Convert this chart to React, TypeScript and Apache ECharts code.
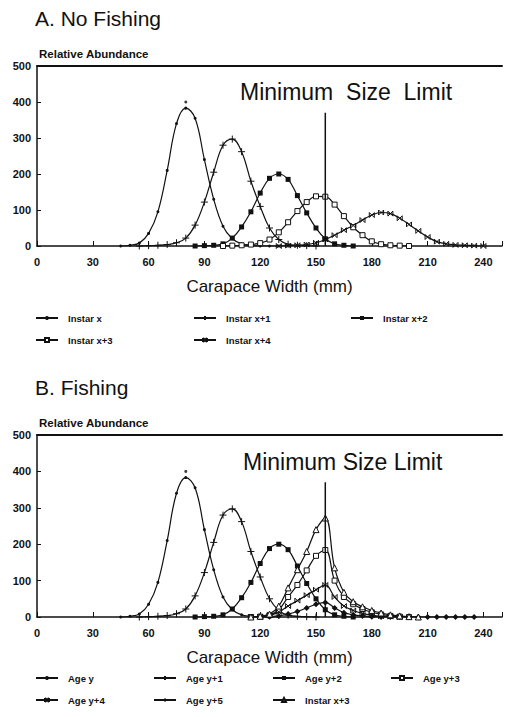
import React, { useEffect, useRef } from "react";
import * as echarts from "echarts";

const FONT = '"Liberation Sans", Arial, Helvetica, sans-serif';
const INK = "#111";

// ---- Panel A: no fishing (carapace width mm, relative abundance) ----
const instarX: [number, number][] = [
  [45, 0], [50, 2], [55, 8], [60, 35], [65, 95], [70, 210], [75, 340], [80, 383],
  [85, 355], [90, 240], [95, 130], [100, 55], [105, 20], [110, 6], [115, 2], [120, 0], [125, 0], [130, 0],
];
const instarX1: [number, number][] = [
  [55, 0], [60, 1], [65, 2], [70, 4], [75, 9], [80, 22], [85, 58], [90, 122], [95, 205],
  [100, 280], [105, 297], [110, 262], [115, 180], [120, 110], [125, 50], [130, 18], [135, 5],
  [140, 2], [145, 1], [150, 0],
];
const instarX2: [number, number][] = [
  [85, 0], [90, 1], [95, 2], [100, 6], [105, 22], [110, 53], [115, 95], [120, 147], [125, 188],
  [130, 200], [135, 185], [140, 140], [145, 92], [150, 50], [155, 20], [160, 6], [165, 2], [170, 0],
];
const instarX3: [number, number][] = [
  [100, 0], [105, 1], [110, 2], [115, 4], [120, 8], [125, 18], [130, 38], [135, 66], [140, 97],
  [145, 122], [150, 138], [155, 137], [160, 115], [165, 83], [170, 52], [175, 30], [180, 13],
  [185, 5], [190, 2], [195, 1], [200, 0],
];
const instarX4: [number, number][] = [
  [130, 0], [135, 1], [140, 2], [145, 4], [150, 9], [155, 18], [160, 30], [165, 44], [170, 57],
  [175, 72], [180, 86], [185, 93], [190, 90], [195, 77], [200, 60], [205, 42], [210, 25],
  [215, 12], [220, 6], [225, 3], [230, 2], [235, 1], [240, 0],
];

// ---- Panel B: fishing ----
const ageY: [number, number][] = [
  [45, 0], [50, 2], [55, 8], [60, 35], [65, 95], [70, 210], [75, 340], [80, 383],
  [85, 355], [90, 240], [95, 130], [100, 55], [105, 20], [110, 6], [115, 2], [120, 0], [125, 0], [130, 0],
];
const ageY1: [number, number][] = [
  [55, 0], [60, 1], [65, 2], [70, 4], [75, 9], [80, 22], [85, 58], [90, 122], [95, 205],
  [100, 280], [105, 297], [110, 262], [115, 180], [120, 110], [125, 50], [130, 18], [135, 5],
  [140, 2], [145, 1], [150, 0],
];
const ageY2: [number, number][] = [
  [85, 0], [90, 1], [95, 2], [100, 6], [105, 22], [110, 53], [115, 95], [120, 147], [125, 188],
  [130, 200], [135, 185], [140, 140], [145, 92], [150, 50], [155, 20], [160, 6], [165, 2], [170, 0],
];
const ageY3: [number, number][] = [
  [115, 0], [120, 1], [125, 5], [130, 20], [135, 55], [140, 88], [145, 128], [150, 168], [155, 184],
  [160, 100], [165, 55], [170, 35], [175, 22], [180, 13], [185, 7], [190, 3], [195, 1], [200, 0],
];
const ageY4: [number, number][] = [
  [115, 0], [120, 1], [125, 4], [130, 14], [135, 30], [140, 45], [145, 60], [150, 75], [155, 88],
  [160, 55], [165, 30], [170, 18], [175, 10], [180, 5], [185, 2], [190, 1], [195, 0],
];
const ageY5: [number, number][] = [
  [120, 0], [125, 1], [130, 3], [135, 8], [140, 15], [145, 25], [150, 35], [155, 40], [160, 25],
  [165, 12], [170, 6], [175, 3], [180, 1], [185, 0], [190, 0], [195, 0], [200, 0], [205, 0],
  [210, 0], [215, 0], [220, 0], [225, 0], [230, 0], [235, 0],
];
const instarX3Fished: [number, number][] = [
  [115, 0], [120, 2], [125, 8], [130, 30], [135, 80], [140, 130], [145, 180], [150, 240], [155, 272],
  [160, 135], [165, 68], [170, 42], [175, 28], [180, 18], [185, 11], [190, 6], [195, 3], [200, 1], [205, 0],
];

// Stray plotter dot above the first peak, and the size-limit rule
const peakDot: [number, number][] = [[80, 400]];
const sizeLimit: [number, number][] = [[155, 0], [155, 370]];

const legendA = ["Instar x", "Instar x+1", "Instar x+2", "Instar x+3", "Instar x+4"];
const legendB = ["Age y", "Age y+1", "Age y+2", "Age y+3", "Age y+4", "Age y+5", "Instar x+3"];

// legend slot positions (px) within each panel
const slotsA = [[35, 313], [193, 313], [350, 313], [35, 335], [193, 335]];
const slotsB = [[35, 313], [153, 313], [272, 313], [390, 313], [35, 335], [153, 335], [272, 335]];

const SYM_PLUS = "path://M0,5L10,5M5,0L5,10";
const SYM_XBAR = "path://M0,0L0,10M10,0L10,10M0,0L10,10M10,0L0,10";

type Sym = { symbol: string; size: number; fill: string; stroke: number };
const DOT: Sym = { symbol: "circle", size: 3, fill: INK, stroke: 0 };
const PLUS: Sym = { symbol: SYM_PLUS, size: 7, fill: INK, stroke: 1 };
const FSQ: Sym = { symbol: "rect", size: 5, fill: INK, stroke: 0 };
const OSQ: Sym = { symbol: "rect", size: 5, fill: "#fff", stroke: 1 };
const XBAR: Sym = { symbol: SYM_XBAR, size: 5, fill: INK, stroke: 1 };
const DIAM: Sym = { symbol: "diamond", size: 6, fill: INK, stroke: 0 };
const OTRI: Sym = { symbol: "triangle", size: 6, fill: "#fff", stroke: 1 };

function curve(name: string, data: [number, number][], s: Sym) {
  return {
    type: "line",
    name,
    data,
    smooth: 0.4,
    symbol: s.symbol,
    symbolSize: s.size,
    showAllSymbol: true,
    lineStyle: { color: INK, width: 1.2 },
    itemStyle: { color: s.fill, borderColor: INK, borderWidth: s.stroke },
    z: 3,
  };
}

function panel(opts: {
  title: string;
  gridTop: number;
  gridHeight: number;
  limitText: string;
  limitLabelX: number;
  limitLabelY: number;
  series: any[];
  legendNames: string[];
  slots: number[][];
}) {
  const { title, gridTop, gridHeight } = opts;
  const axisText = { fontFamily: FONT, fontSize: 11, fontWeight: "bold", color: INK };
  return {
    animation: false,
    backgroundColor: "#fff",
    grid: { left: 37, top: gridTop, width: 468, height: gridHeight },
    xAxis: [
      {
        type: "value",
        min: 0,
        max: 250,
        interval: 30,
        name: "Carapace Width (mm)",
        nameLocation: "middle",
        nameGap: 32,
        nameTextStyle: { fontFamily: FONT, fontSize: 17, color: INK },
        axisLine: { lineStyle: { color: INK, width: 1.5 } },
        axisTick: { inside: true, length: 5, lineStyle: { color: INK } },
        axisLabel: {
          ...axisText,
          margin: 10,
          formatter: (v: number) => (v % 30 === 0 ? String(v) : ""),
        },
        splitLine: { show: false },
      },
      {
        type: "value",
        position: "top",
        min: 0,
        max: 250,
        axisLine: { show: true, lineStyle: { color: INK, width: 2 } },
        axisTick: { show: false },
        axisLabel: { show: false },
        splitLine: { show: false },
      },
    ],
    yAxis: {
      type: "value",
      min: 0,
      max: 500,
      interval: 100,
      axisLine: { show: true, lineStyle: { color: INK, width: 1.5 } },
      axisTick: { show: true, inside: true, length: 4, lineStyle: { color: INK } },
      axisLabel: { ...axisText, margin: 6 },
      splitLine: { show: false },
    },
    legend: opts.legendNames.map((n, i) => ({
      data: [n],
      left: opts.slots[i][0],
      top: opts.slots[i][1],
      padding: 0,
      itemWidth: 22,
      itemHeight: 5,
      selectedMode: false,
      textStyle: { fontFamily: FONT, fontSize: 9.5, fontWeight: "bold", color: INK, padding: [0, 0, 0, 5] },
    })),
    graphic: [
      {
        type: "text",
        x: 35,
        y: gridTop - 48,
        style: { text: title, fontFamily: FONT, fontSize: 21, fill: INK, verticalAlign: "middle" },
      },
      {
        type: "text",
        x: 39,
        y: gridTop - 12,
        style: {
          text: "Relative Abundance",
          fontFamily: FONT,
          fontSize: 11.5,
          fontWeight: "bold",
          fill: INK,
          verticalAlign: "middle",
        },
      },
      {
        type: "text",
        x: opts.limitLabelX,
        y: opts.limitLabelY,
        style: { text: opts.limitText, fontFamily: FONT, fontSize: 23, fill: INK, verticalAlign: "middle" },
      },
    ],
    series: [
      ...opts.series,
      {
        type: "scatter",
        name: "peak",
        data: peakDot,
        symbol: "circle",
        symbolSize: 3,
        itemStyle: { color: INK },
        silent: true,
      },
      {
        type: "line",
        name: "limit",
        data: sizeLimit,
        symbol: "none",
        lineStyle: { color: INK, width: 1.5 },
        silent: true,
        z: 4,
      },
    ],
  };
}

const optionA = panel({
  title: "A. No Fishing",
  gridTop: 66,
  gridHeight: 180,
  limitText: "Minimum  Size  Limit",
  limitLabelX: 240,
  limitLabelY: 92,
  legendNames: legendA,
  slots: slotsA,
  series: [
    curve("Instar x", instarX, DOT),
    curve("Instar x+1", instarX1, PLUS),
    curve("Instar x+2", instarX2, FSQ),
    curve("Instar x+3", instarX3, OSQ),
    curve("Instar x+4", instarX4, XBAR),
  ],
});

const optionB = panel({
  title: "B. Fishing",
  gridTop: 75,
  gridHeight: 182,
  limitText: "Minimum Size Limit",
  limitLabelX: 243,
  limitLabelY: 102,
  legendNames: legendB,
  slots: slotsB,
  series: [
    curve("Age y", ageY, DOT),
    curve("Age y+1", ageY1, PLUS),
    curve("Age y+2", ageY2, FSQ),
    curve("Age y+3", ageY3, OSQ),
    curve("Age y+4", ageY4, XBAR),
    curve("Age y+5", ageY5, DIAM),
    curve("Instar x+3", instarX3Fished, OTRI),
  ],
});

function Panel({ option, height }: { option: any; height: number }) {
  const ref = useRef<HTMLDivElement>(null);
  useEffect(() => {
    const chart = echarts.init(ref.current!, undefined, { renderer: "svg" });
    chart.setOption(option);
    return () => chart.dispose();
  }, [option]);
  return <div ref={ref} style={{ width: 505, height }} />;
}

export default function App() {
  return (
    <div style={{ position: "absolute", left: 0, top: 0, width: 505, height: 717, background: "#fff" }}>
      <Panel option={optionA} height={360} />
      <Panel option={optionB} height={357} />
    </div>
  );
}
